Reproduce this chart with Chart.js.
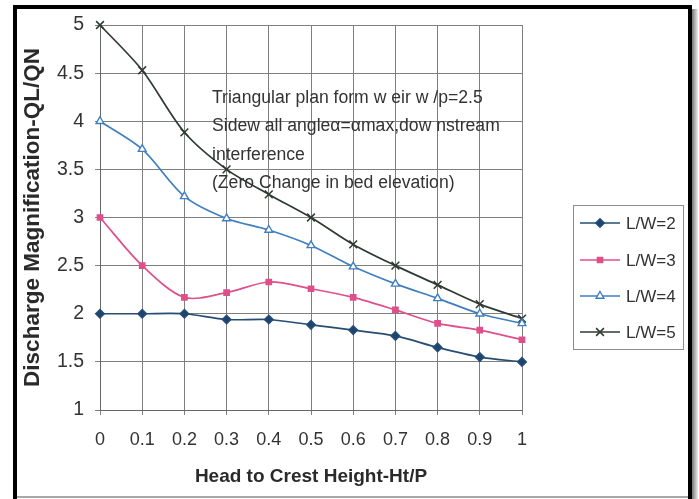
<!DOCTYPE html>
<html><head><meta charset="utf-8">
<script src="https://cdn.jsdelivr.net/npm/chart.js@4"></script>
<style>html,body{margin:0;padding:0;background:#fff;overflow:hidden}</style>
</head><body>
<canvas id="c" width="699" height="499"></canvas>
<script>
const xValues = [0, 0.1, 0.2, 0.3, 0.4, 0.5, 0.6, 0.7, 0.8, 0.9, 1];
const lw2 = [2.0, 2.0, 2.0, 1.94, 1.94, 1.885, 1.83, 1.77, 1.65, 1.55, 1.5];
const lw3 = [3.0, 2.5, 2.17, 2.22, 2.33, 2.26, 2.17, 2.04, 1.9, 1.83, 1.73];
const lw4 = [4.0, 3.71, 3.22, 2.99, 2.87, 2.71, 2.49, 2.31, 2.16, 2.0, 1.9];
const lw5 = [5.0, 4.53, 3.885, 3.5, 3.24, 3.0, 2.72, 2.5, 2.3, 2.1, 1.95];
const seriesNames = ['L/W=2', 'L/W=3', 'L/W=4', 'L/W=5'];
const yTickValues = [1, 1.5, 2, 2.5, 3, 3.5, 4, 4.5, 5];
const xTickValues = [0, 0.1, 0.2, 0.3, 0.4, 0.5, 0.6, 0.7, 0.8, 0.9, 1];
const yTitle = 'Discharge Magnification-QL/QN';
const xTitle = 'Head to Crest Height-Ht/P';
const noteLines = [
  'Triangular plan form w eir w /p=2.5',
  'Sidew all angleα=αmax,dow nstream',
  'interference',
  '(Zero Change in bed elevation)'
];
const noteAnchor = {x: 0.2654, y: 4.19};

const FONT = '"Liberation Sans", Arial, sans-serif';
const toXY = arr => arr.map((v, i) => ({x: xValues[i], y: v}));

const styles = [
  {c: '#264d74', bg: '#1d4470', ps: 'rectRot', r: 4.2, bw: 1.6},
  {c: '#df4f8b', bg: '#df4f8b', ps: 'rect', r: 3.6, bw: 1.6},
  {c: '#3f7fc0', bg: '#ffffff', ps: 'triangle', r: 4.5, bw: 1.4},
  {c: '#2e3a32', bg: '#2e3a32', ps: 'crossRot', r: 5.5, bw: 1.5}
];
const seriesData = [lw2, lw3, lw4, lw5];

const datasets = seriesData.map((d, i) => ({
  label: seriesNames[i],
  data: toXY(d),
  borderColor: styles[i].c,
  backgroundColor: styles[i].bg,
  pointBorderColor: styles[i].c,
  pointBackgroundColor: styles[i].bg,
  pointStyle: styles[i].ps,
  pointRadius: styles[i].r,
  pointBorderWidth: styles[i].bw,
  borderWidth: 1.7,
  tension: 0.3,
  clip: false
}));

const decor = {
  id: 'decor',
  afterDraw(chart) {
    const ctx = chart.ctx;
    const xs = chart.scales.x, ys = chart.scales.y;
    ctx.save();
    // annotation text
    ctx.fillStyle = '#333';
    ctx.font = '17.6px ' + FONT;
    ctx.textAlign = 'left';
    ctx.textBaseline = 'alphabetic';
    const nx = xs.getPixelForValue(noteAnchor.x);
    const ny = ys.getPixelForValue(noteAnchor.y);
    noteLines.forEach((t, i) => ctx.fillText(t, nx, ny + i * 28.5));

    // legend
    const lx = 573, ly = 205, lwid = 110, lh = 144;
    ctx.fillStyle = '#fff';
    ctx.fillRect(lx, ly, lwid, lh);
    ctx.strokeStyle = '#8c8c8c';
    ctx.lineWidth = 1;
    ctx.strokeRect(lx + 0.5, ly + 0.5, lwid, lh);
    const rowY = [223, 260, 296, 332];
    chart.data.datasets.forEach((ds, i) => {
      const y = rowY[i];
      ctx.strokeStyle = ds.borderColor;
      ctx.lineWidth = 1.7;
      ctx.beginPath(); ctx.moveTo(580, y); ctx.lineTo(620, y); ctx.stroke();
      ctx.fillStyle = ds.pointBackgroundColor;
      ctx.strokeStyle = ds.pointBorderColor;
      ctx.lineWidth = ds.pointBorderWidth;
      Chart.helpers.drawPoint(ctx, {pointStyle: ds.pointStyle, radius: ds.pointRadius, borderWidth: ds.pointBorderWidth, rotation: 0}, 600, y);
      ctx.fillStyle = '#333';
      ctx.font = '17px ' + FONT;
      ctx.textBaseline = 'middle';
      ctx.fillText(ds.label, 626, y + 1);
    });

    // frame
    ctx.fillStyle = '#000';
    ctx.fillRect(13, 5, 679, 4);
    ctx.fillRect(13, 5, 4, 494);
    ctx.fillRect(688, 5, 4, 494);
    const g = ctx.createLinearGradient(692, 0, 698, 0);
    g.addColorStop(0, '#777'); g.addColorStop(1, '#eee');
    ctx.fillStyle = g;
    ctx.fillRect(692, 9, 6, 490);
    ctx.fillStyle = '#a8a8a8';
    ctx.fillRect(17, 496, 671, 2);
    ctx.restore();
  }
};

new Chart(document.getElementById('c'), {
  type: 'line',
  data: {datasets},
  options: {
    responsive: false,
    devicePixelRatio: 1,
    animation: false,
    layout: {padding: {left: 0, right: 177, top: 25, bottom: 0}},
    plugins: {legend: {display: false}, tooltip: {enabled: false}},
    scales: {
      x: {
        type: 'linear',
        min: 0, max: 1,
        afterFit: s => { s.height = 89; },
        afterBuildTicks: s => { s.ticks = xTickValues.map(v => ({value: v})); },
        ticks: {
          color: '#333', font: {family: FONT, size: 18}, padding: 14,
          callback: v => String(v)
        },
        grid: {color: '#7f7f7f', lineWidth: 1, tickLength: 5},
        border: {color: '#666', width: 1},
        title: {display: true, text: xTitle, color: '#2a2a2a',
          font: {family: FONT, size: 19, weight: 'bold'}, padding: {top: 0, bottom: 10.6}}
      },
      y: {
        type: 'linear',
        min: 1, max: 5,
        afterFit: s => { s.width = 100; },
        afterBuildTicks: s => { s.ticks = yTickValues.map(v => ({value: v})); },
        ticks: {
          color: '#333', font: {family: FONT, size: 19.5}, padding: 11,
          callback: v => String(v)
        },
        grid: {color: '#7f7f7f', lineWidth: 1, tickLength: 5},
        border: {color: '#666', width: 1},
        title: {display: true, text: yTitle, color: '#2a2a2a',
          font: {family: FONT, size: 22.5, weight: 'bold'}, padding: {top: 19, bottom: 0}}
      }
    }
  },
  plugins: [decor]
});
</script>
</body></html>
